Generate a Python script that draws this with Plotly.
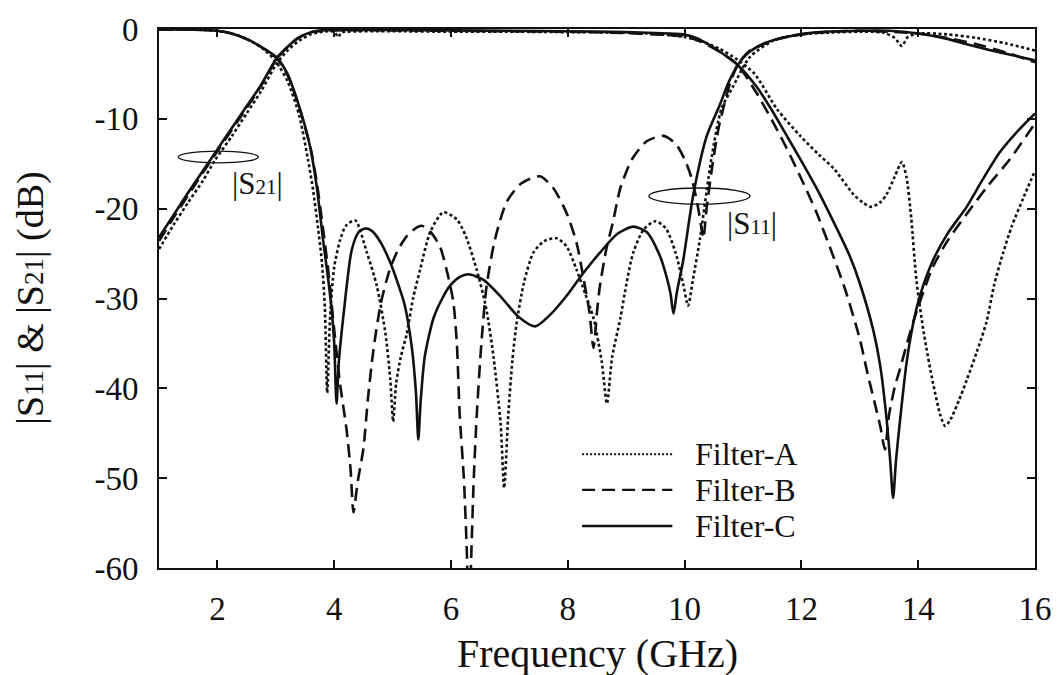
import plotly.graph_objects as go

# ---------------- data ----------------
# Filter-A (dotted)
a_s21_f = [1.0, 1.25, 1.5, 1.75, 1.96, 2.25, 2.5, 2.75, 3.0, 3.2, 3.4, 3.6, 3.8, 4.0, 4.07, 4.12, 4.2,
           5.0, 6.0, 7.0, 8.0, 9.0, 9.5, 10.0, 10.3, 10.6, 10.9, 11.2, 11.58, 11.98, 12.3, 12.55,
           12.89, 13.05, 13.2, 13.35, 13.46, 13.6, 13.72, 13.8, 13.88, 13.97, 14.1, 14.25, 14.38,
           14.46, 14.55, 14.7, 14.83, 15.0, 15.17, 15.3, 15.45, 15.6, 15.8, 16.0]
a_s21_db = [-24.5, -21.8, -19.3, -16.9, -14.6, -11.9, -9.4, -6.9, -4.0, -2.4, -1.3, -0.6, -0.3, -0.3, -0.9, -0.4, -0.3,
            -0.25, -0.3, -0.3, -0.35, -0.4, -0.55, -0.9, -1.4, -2.2, -3.4, -5.0, -8.9, -11.9, -14.0, -15.5,
            -18.4, -19.3, -19.8, -19.3, -18.4, -16.4, -14.8, -16.5, -21.0, -28.0, -34.0, -39.3, -43.0,
            -44.2, -43.5, -41.3, -39.1, -36.0, -32.6, -28.5, -25.0, -22.0, -18.8, -15.8]

a_s11_f = [1.0, 1.5, 2.0, 2.3, 2.56, 2.8, 3.0, 3.2, 3.4, 3.55, 3.64, 3.72, 3.79, 3.84, 3.88, 3.93, 4.0,
           4.1, 4.2, 4.36, 4.56, 4.73, 4.88, 4.96, 5.01, 5.06, 5.14, 5.24, 5.35, 5.47, 5.65, 5.87,
           6.1, 6.25, 6.44, 6.6, 6.73, 6.85, 6.91, 6.98, 7.05, 7.12, 7.25, 7.41, 7.6, 7.81, 7.98,
           8.15, 8.3, 8.44, 8.58, 8.67, 8.76, 8.9, 9.0, 9.12, 9.3, 9.5, 9.68, 9.85, 9.98, 10.06,
           10.14, 10.26, 10.46, 10.63, 10.83, 11.12, 11.52, 11.98, 12.5, 13.0, 13.4, 13.6, 13.72,
           13.82, 14.0, 14.5, 15.0, 15.5, 16.0]
a_s11_db = [-0.05, -0.05, -0.2, -0.6, -1.3, -2.3, -3.6, -5.8, -9.6, -14.5, -18.0, -22.0, -26.0, -31.0, -40.5, -32.0, -26.5,
            -23.5, -21.9, -21.3, -24.9, -28.6, -34.0, -39.0, -43.7, -39.5, -36.5, -34.0, -30.0, -26.8, -22.5, -20.4,
            -21.2, -23.0, -26.8, -31.0, -36.6, -44.0, -51.1, -43.0, -37.0, -32.9, -28.2, -24.9, -23.6, -23.3, -24.2,
            -26.8, -29.5, -32.2, -37.0, -41.7, -36.5, -32.2, -28.5, -24.9, -22.3, -21.4, -22.2, -25.0, -28.5, -30.8,
            -28.0, -23.5, -14.4, -8.9, -6.4, -3.1, -1.3, -0.6, -0.4, -0.3, -0.4, -1.0, -1.9,
            -0.9, -0.5, -0.6, -1.0, -1.6, -2.4]

# Filter-B (dashed)
b_s21_f = [1.0, 1.25, 1.5, 1.75, 2.0, 2.25, 2.5, 2.75, 3.02, 3.2, 3.36, 3.5, 3.64, 3.8, 4.0, 5.0, 6.0,
           7.0, 8.0, 9.0, 9.5, 9.97, 10.2, 10.43, 10.71, 10.91, 11.23, 11.5, 11.75, 12.0, 12.25, 12.5,
           12.75, 13.0, 13.12, 13.25, 13.35, 13.43, 13.5, 13.6, 13.69, 13.83, 13.97, 14.25, 14.5,
           14.83, 15.2, 15.57, 16.0]
b_s21_db = [-23.6, -21.0, -18.5, -16.0, -13.6, -11.2, -8.8, -6.3, -3.3, -2.0, -1.1, -0.6, -0.3, -0.2, -0.15, -0.15, -0.2,
            -0.25, -0.3, -0.45, -0.6, -0.8, -1.2, -1.9, -3.0, -4.0, -7.1, -10.2, -13.3, -16.7, -20.3, -24.5,
            -29.0, -34.5, -38.0, -41.5, -44.2, -46.8, -43.0, -39.8, -37.8, -34.5, -31.5, -26.5, -23.6,
            -20.6, -17.4, -14.5, -10.5]

b_s11_f = [1.0, 1.5, 2.0, 2.3, 2.56, 2.8, 3.02, 3.2, 3.36, 3.5, 3.6, 3.7, 3.8, 3.9, 4.0, 4.1, 4.21,
           4.28, 4.33, 4.4, 4.5, 4.58, 4.67, 4.8, 4.95, 5.1, 5.25, 5.41, 5.5, 5.65, 5.81, 5.95,
           6.04, 6.1, 6.15, 6.22, 6.27, 6.31, 6.35, 6.39, 6.44, 6.52, 6.61, 6.75, 6.95, 7.2, 7.52,
           7.75, 7.98, 8.15, 8.27, 8.37, 8.44, 8.5, 8.55, 8.66, 8.78, 8.9, 9.1, 9.35, 9.64, 9.85,
           10.0, 10.12, 10.22, 10.28, 10.32, 10.38, 10.48, 10.58, 10.66, 10.78, 10.91, 11.1, 11.6,
           12.0, 12.5, 13.0, 13.5, 14.0, 14.5, 15.0, 15.5, 16.0]
b_s11_db = [-0.05, -0.05, -0.2, -0.6, -1.3, -2.2, -3.3, -5.1, -7.9, -10.9, -13.4, -17.0, -21.8, -27.0, -33.5, -39.5, -44.5,
            -49.0, -53.8, -50.5, -46.7, -41.0, -35.8, -30.5, -26.8, -24.5, -23.0, -22.1, -21.9, -22.6, -24.2, -27.5,
            -30.4, -35.0, -43.1, -50.0, -58.0, -66.0, -58.0, -50.0, -43.1, -35.0, -28.6, -23.5, -19.3, -17.2, -16.4,
            -17.7, -20.5, -23.8, -27.8, -31.5, -35.5, -31.5, -28.6, -24.5, -21.3, -17.7, -14.5, -12.5, -11.9, -12.8,
            -14.5, -16.6, -19.5, -21.8, -23.3, -19.8, -15.0, -11.1, -8.9, -6.0, -4.0, -2.5, -1.1,
            -0.6, -0.3, -0.2, -0.3, -0.5, -1.0, -1.7, -2.6, -3.7]

# Filter-C (solid)
c_s21_f = [1.0, 1.25, 1.5, 1.75, 2.0, 2.25, 2.5, 2.75, 3.02, 3.2, 3.36, 3.5, 3.64, 3.8, 4.0, 5.0, 6.0,
           7.0, 8.0, 9.0, 9.5, 9.97, 10.2, 10.43, 10.71, 10.91, 11.23, 11.5, 11.75, 12.0, 12.25, 12.5,
           12.83, 13.0, 13.23, 13.35, 13.46, 13.52, 13.57, 13.62, 13.69, 13.8, 13.92, 14.03, 14.25,
           14.5, 14.83, 15.1, 15.4, 15.7, 16.0]
c_s21_db = [-23.2, -20.7, -18.2, -15.8, -13.4, -11.0, -8.6, -6.2, -3.2, -2.0, -1.1, -0.6, -0.3, -0.15, -0.1, -0.1, -0.15,
            -0.2, -0.25, -0.35, -0.45, -0.6, -1.0, -1.8, -3.0, -4.0, -6.4, -9.1, -11.9, -14.7, -17.6, -20.8,
            -25.3, -28.3, -33.5, -37.5, -43.5, -48.0, -52.2, -48.0, -43.5, -37.2, -32.6, -29.7, -25.8,
            -22.8, -19.8, -16.8, -13.7, -11.4, -9.4]

c_s11_f = [1.0, 1.5, 2.0, 2.3, 2.56, 2.8, 3.02, 3.2, 3.36, 3.5, 3.59, 3.7, 3.81, 3.9, 3.96, 4.0, 4.04,
           4.08, 4.16, 4.3, 4.42, 4.53, 4.65, 4.8, 4.96, 5.1, 5.21, 5.33, 5.4, 5.44, 5.48, 5.55,
           5.7, 5.85, 5.98, 6.15, 6.3, 6.55, 6.84, 7.15, 7.44, 7.7, 7.98, 8.25, 8.55, 8.85, 9.12,
           9.35, 9.58, 9.7, 9.76, 9.81, 9.87, 9.97, 10.15, 10.38, 10.6, 10.75, 10.91, 11.1, 11.4,
           11.8, 12.2, 13.0, 13.5, 14.0, 14.5, 14.83, 15.2, 15.6, 16.0]
c_s11_db = [-0.05, -0.05, -0.2, -0.6, -1.3, -2.2, -3.2, -5.0, -7.8, -10.8, -13.2, -17.5, -23.5, -28.0, -31.5, -35.0, -41.7,
            -37.0, -31.8, -24.6, -22.6, -22.2, -22.5, -23.8, -26.0, -28.5, -30.8, -35.5, -40.5, -45.7, -41.5, -36.5,
            -32.2, -30.0, -28.6, -27.6, -27.3, -27.9, -29.7, -32.0, -33.1, -31.8, -29.7, -27.3, -24.9, -22.8, -22.0,
            -22.6, -25.3, -27.8, -29.5, -31.7, -29.2, -26.0, -18.4, -11.9, -8.5, -6.0, -4.0, -2.6, -1.5,
            -0.8, -0.4, -0.2, -0.2, -0.5, -1.1, -1.7, -2.3, -2.9, -3.5]

filter_names = ["Filter-A", "Filter-B", "Filter-C"]
x_ticks = [2, 4, 6, 8, 10, 12, 14, 16]
x_tick_text = ["2", "4", "6", "8", "10", "12", "14", "16"]
y_ticks = [0, -10, -20, -30, -40, -50, -60]
y_tick_text = ["0", "-10", "-20", "-30", "-40", "-50", "-60"]

# ---------------- figure ----------------
FONT = "Liberation Serif"
INK = "#111111"
W = 2.6
DOT = "3px,2.6px"
DASH = "13px,7px"

fig = go.Figure()

def add(f, db, name, dash):
    fig.add_trace(go.Scatter(x=f, y=db, mode="lines", name=name, showlegend=False,
                             line=dict(color=INK, width=W, dash=dash, shape="spline", smoothing=0.7),
                             hoverinfo="skip"))

add(a_s21_f, a_s21_db, filter_names[0], DOT)
add(a_s11_f, a_s11_db, filter_names[0], DOT)
add(b_s21_f, b_s21_db, filter_names[1], DASH)
add(b_s11_f, b_s11_db, filter_names[1], DASH)
add(c_s21_f, c_s21_db, filter_names[2], "solid")
add(c_s11_f, c_s11_db, filter_names[2], "solid")

axis_common = dict(showline=True, linewidth=2, linecolor=INK, mirror="ticks",
                   ticks="inside", ticklen=8, tickwidth=2, tickcolor=INK,
                   showgrid=False, zeroline=False,
                   tickfont=dict(family=FONT, size=33, color=INK))

fig.update_xaxes(range=[1, 16], tickvals=x_ticks, ticktext=x_tick_text, ticklabelstandoff=10, **axis_common)
fig.update_yaxes(range=[-60, 0], tickvals=y_ticks, ticktext=y_tick_text, ticklabelstandoff=12, **axis_common)

shapes = []
annotations = []

# custom legend (longer line samples than plotly's legend)
leg_y = [0.211, 0.145, 0.078]
leg_dash = [DOT, DASH, "solid"]
for name, yy, dsh in zip(filter_names, leg_y, leg_dash):
    shapes.append(dict(type="line", xref="paper", yref="paper", x0=0.483, x1=0.586, y0=yy, y1=yy,
                       line=dict(color=INK, width=2.4 if dsh != DOT else 2.0,
                                 dash=dsh if dsh != DOT else "2px,2px")))
    annotations.append(dict(xref="paper", yref="paper", x=0.610, y=yy, text=name, showarrow=False,
                            xanchor="left", yanchor="middle",
                            font=dict(family=FONT, size=32, color=INK)))

# ellipse markers for |S21| and |S11|
shapes.append(dict(type="circle", xref="x", yref="y", x0=1.33, x1=2.70, y0=-13.6, y1=-14.9,
                   line=dict(color=INK, width=1.3)))
shapes.append(dict(type="circle", xref="x", yref="y", x0=9.39, x1=11.12, y0=-17.7, y1=-19.5,
                   line=dict(color=INK, width=1.3)))
sub = '<span style="font-size:21px">{}</span>'
annotations.append(dict(xref="x", yref="y", x=2.68, y=-17.2, showarrow=False,
                        text="|S" + sub.format("21") + "|",
                        font=dict(family=FONT, size=31, color=INK)))
annotations.append(dict(xref="x", yref="y", x=11.15, y=-21.6, showarrow=False,
                        text="|S" + sub.format("11") + "|",
                        font=dict(family=FONT, size=31, color=INK)))

# axis titles
sub2 = '<span style="font-size:27px">{}</span>'
annotations.append(dict(xref="paper", yref="paper", x=0.5, y=-0.158, showarrow=False,
                        text="Frequency (GHz)", xanchor="center", yanchor="middle",
                        font=dict(family=FONT, size=40, color=INK)))
annotations.append(dict(xref="paper", yref="paper", x=-0.147, y=0.5, showarrow=False,
                        text="|S" + sub2.format("11") + "| & |S" + sub2.format("21") + "| (dB)",
                        textangle=-90, xanchor="center", yanchor="middle",
                        font=dict(family=FONT, size=38, color=INK)))

fig.update_layout(width=1064, height=675,
                  margin=dict(l=159, r=29, t=18, b=107),
                  paper_bgcolor="white", plot_bgcolor="white",
                  font=dict(family=FONT, color=INK),
                  shapes=shapes, annotations=annotations, showlegend=False)

fig.write_html("out.html")
